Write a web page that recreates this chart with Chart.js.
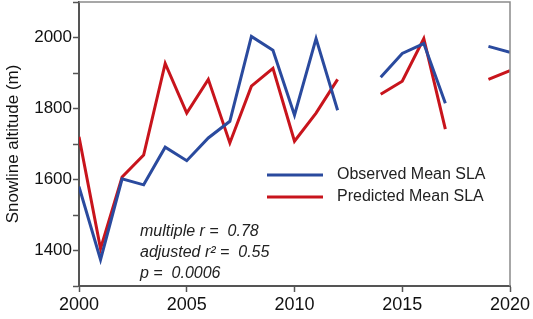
<!DOCTYPE html>
<html>
<head>
<meta charset="utf-8">
<script src="https://cdn.jsdelivr.net/npm/chart.js@4"></script>
<style>
  html, body { margin: 0; padding: 0; background: #fff; }
  #wrap { width: 533px; height: 319px; position: relative; }
</style>
</head>
<body>
<div id="wrap"><canvas id="slaChart" width="533" height="319"></canvas></div>
<script>
// data
const years = [2000, 2001, 2002, 2003, 2004, 2005, 2006, 2007, 2008, 2009, 2010,
               2011, 2012, 2013, 2014, 2015, 2016, 2017, 2018, 2019, 2020];
const observedSLA = [1580, 1374, 1602, 1585, 1691, 1653, 1717, 1764, 2003, 1964, 1781,
                     1997, 1795, null, 1888, 1955, 1983, 1815, null, 1975, 1958];
const predictedSLA = [1720, 1405, 1607, 1669, 1927, 1787, 1882, 1703, 1863, 1913, 1708,
                      1787, 1882, null, 1840, 1877, 1997, 1742, null, 1882, 1907];
const seriesLabels = ['Observed Mean SLA', 'Predicted Mean SLA'];
const statsLines = ['multiple r =  0.78', 'adjusted r\u00b2 =  0.55', 'p =  0.0006'];

const BLUE = '#2a4a9e';
const RED = '#c8141c';

const toPoints = (vals) => years.map((yr, i) => ({ x: yr, y: vals[i] }));

// frame on top/right, legend and stats text
const extrasPlugin = {
    id: 'extras',
    afterDraw(chart) {
        const { ctx, chartArea } = chart;
        ctx.save();
        ctx.strokeStyle = '#8a8a8a';
        ctx.lineWidth = 1.5;
        ctx.beginPath();
        ctx.moveTo(chartArea.left, chartArea.top);
        ctx.lineTo(chartArea.right, chartArea.top);
        ctx.lineTo(chartArea.right, chartArea.bottom);
        ctx.stroke();

        // legend
        const colors = [BLUE, RED];
        ctx.font = '16px "Liberation Sans", Arial, sans-serif';
        ctx.textBaseline = 'middle';
        ctx.fillStyle = '#222';
        seriesLabels.forEach((lbl, i) => {
            const y = 175 + i * 22;
            ctx.strokeStyle = colors[i];
            ctx.lineWidth = 3;
            ctx.beginPath();
            ctx.moveTo(267, y);
            ctx.lineTo(323, y);
            ctx.stroke();
            ctx.fillText(lbl, 337, y);
        });

        // stats
        ctx.font = 'italic 16px "Liberation Sans", Arial, sans-serif';
        statsLines.forEach((t, i) => {
            ctx.fillText(t, 140, 232 + i * 21);
        });
        ctx.restore();
    }
};

const ctx = document.getElementById('slaChart').getContext('2d');
new Chart(ctx, {
    type: 'line',
    data: {
        datasets: [
            {
                label: seriesLabels[0],
                data: toPoints(observedSLA),
                borderColor: BLUE,
                borderWidth: 3,
                pointRadius: 0,
                tension: 0,
                spanGaps: false,
            },
            {
                label: seriesLabels[1],
                data: toPoints(predictedSLA),
                borderColor: RED,
                borderWidth: 3,
                pointRadius: 0,
                tension: 0,
                spanGaps: false,
            },
        ],
    },
    options: {
        responsive: false,
        animation: false,
        layout: { padding: { top: 2, right: 23, left: 0, bottom: 0 } },
        plugins: {
            legend: { display: false },
            tooltip: { enabled: false },
        },
        scales: {
            x: {
                type: 'linear',
                min: 2000,
                max: 2020,
                ticks: {
                    stepSize: 5,
                    color: '#111',
                    padding: 2,
                    font: { family: '"Liberation Sans", Arial, sans-serif', size: 18 },
                    callback: (v) => String(v),
                },
                grid: {
                    drawOnChartArea: false,
                    tickLength: 6,
                    tickColor: '#555',
                    tickWidth: 1.5,
                },
                border: { color: '#555', width: 2 },
                afterFit: (scale) => { scale.height = 33; },
            },
            y: {
                min: 1300,
                max: 2100,
                ticks: {
                    stepSize: 100,
                    color: '#111',
                    padding: 1,
                    font: { family: '"Liberation Sans", Arial, sans-serif', size: 17 },
                    callback: (v) => (v % 200 === 0 ? String(v) : ''),
                },
                grid: {
                    drawOnChartArea: false,
                    tickLength: 6,
                    tickColor: '#555',
                    tickWidth: 1.5,
                },
                border: { color: '#555', width: 2 },
                title: {
                    display: true,
                    text: 'Snowline altitude (m)',
                    color: '#111',
                    padding: { top: 3, bottom: 0 },
                    font: { family: '"Liberation Sans", Arial, sans-serif', size: 17 },
                },
                afterFit: (scale) => {
                    scale.width = 79;
                    scale.paddingTop = 0;
                    scale.paddingBottom = 0;
                },
            },
        },
    },
    plugins: [extrasPlugin],
});
</script>
</body>
</html>
